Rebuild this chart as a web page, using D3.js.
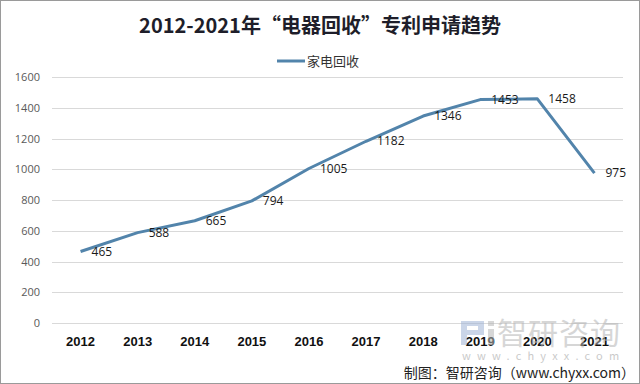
<!DOCTYPE html>
<html>
<head>
<meta charset="utf-8">
<script src="https://cdn.jsdelivr.net/npm/d3@7/dist/d3.min.js"></script>
<style>
  body { margin:0; background:#fff; }
  svg { display:block; font-family:"Noto Sans CJK SC","Noto Sans",sans-serif; }
</style>
</head>
<body>
<div id="chart"></div>
<script>
// data
var years=['2012','2013','2014','2015','2016','2017','2018','2019','2020','2021'];
var values=[465,588,665,794,1005,1182,1346,1453,1458,975];
var yTicks=[0,200,400,600,800,1000,1200,1400,1600];
var seriesName='家电回收';

var width=640, height=384;
var plotLeft=52, plotRight=623, plotTop=77, plotBottom=323;

var svg=d3.select('#chart').append('svg')
    .attr('width',width)
    .attr('height',height);

svg.append('rect')
    .attr('x',0.5).attr('y',0.5)
    .attr('width',width-1).attr('height',height-1)
    .style('fill','#fff')
    .style('stroke','#9a9a9a');

var x=d3.scaleBand().domain(years).range([plotLeft,plotRight]);
var y=d3.scaleLinear().domain([0,1600]).range([plotBottom,plotTop]);

// gridlines
svg.append('g').selectAll('line').data(yTicks).enter()
    .append('line')
    .attr('x1',plotLeft).attr('x2',plotRight)
    .attr('y1',function(d){ return Math.round(y(d))+0.5; })
    .attr('y2',function(d){ return Math.round(y(d))+0.5; })
    .style('stroke','#d9d9d9');

// y axis labels
var yAxis=d3.axisLeft(y).tickValues(yTicks).tickFormat(d3.format('d')).tickSize(0).tickPadding(12);
var gy=svg.append('g').attr('transform','translate('+plotLeft+',0)').call(yAxis);
gy.select('.domain').remove();
gy.selectAll('text')
    .style('font-family','"Open Sans","Noto Sans",sans-serif')
    .style('font-size','11px')
    .style('fill','#595959');

// x axis labels
var xAxis=d3.axisBottom(x).tickSize(0).tickPadding(14);
var gx=svg.append('g').attr('transform','translate(0,'+plotBottom+')').call(xAxis);
gx.select('.domain').remove();
gx.selectAll('text')
    .style('font-family','"Liberation Sans","Noto Sans",sans-serif')
    .style('font-weight','bold')
    .style('font-size','13px')
    .style('fill','#111');

// watermark
var wm=svg.append('g').style('opacity',0.55);
wm.append('rect').attr('x',461).attr('y',321).attr('width',22).attr('height',5).style('fill','#9fb3d6');
wm.append('rect').attr('x',478).attr('y',321).attr('width',6).attr('height',14).style('fill','#9fb3d6');
wm.append('rect').attr('x',461).attr('y',330).attr('width',22).attr('height',5).style('fill','#9fb3d6');
wm.append('rect').attr('x',461).attr('y',321).attr('width',6).attr('height',24).style('fill','#9fb3d6');
wm.append('rect').attr('x',488).attr('y',321).attr('width',6).attr('height',5).style('fill','#b8b8b8');
wm.append('rect').attr('x',488).attr('y',329).attr('width',6).attr('height',16).style('fill','#b8b8b8');
wm.append('text')
    .attr('x',497).attr('y',344)
    .style('font-size','30px')
    .style('fill','#b5b5b5')
    .style('letter-spacing','1px')
    .text('智研咨询');
wm.append('text')
    .attr('x',462).attr('y',360)
    .style('font-size','11px')
    .style('fill','#a0a0a0')
    .style('letter-spacing','6.2px')
    .text('www.chyxx.com');

// line
var line=d3.line()
    .x(function(d,i){ return x(years[i])+x.bandwidth()/2; })
    .y(function(d){ return y(d); });

svg.append('path')
    .datum(values)
    .attr('d',line)
    .style('fill','none')
    .style('stroke','#5284ab')
    .style('stroke-width',3)
    .style('stroke-linejoin','round');

// value labels
svg.append('g').selectAll('text').data(values).enter()
    .append('text')
    .attr('x',function(d,i){ return x(years[i])+x.bandwidth()/2+11; })
    .attr('y',function(d){ return y(d); })
    .attr('dy','0.35em')
    .style('font-family','"Open Sans","Noto Sans",sans-serif')
    .style('font-size','12px')
    .style('fill','#1a1a1a')
    .text(function(d){ return d; });

// title
svg.append('text')
    .attr('x',320).attr('y',33)
    .attr('text-anchor','middle')
    .style('font-size','20px')
    .style('font-weight','bold')
    .style('fill','#1e1e2a')
    .text('2012-2021年“电器回收”专利申请趋势');

// legend
svg.append('line')
    .attr('x1',277).attr('x2',305)
    .attr('y1',61).attr('y2',61)
    .style('stroke','#5284ab')
    .style('stroke-width',3);
svg.append('text')
    .attr('x',307).attr('y',66)
    .style('font-size','13px')
    .style('fill','#333')
    .text(seriesName);

// source
svg.append('text')
    .attr('x',635).attr('y',378)
    .attr('text-anchor','end')
    .style('font-size','14px')
    .style('fill','#222')
    .text('制图：智研咨询（www.chyxx.com）');
</script>
</body>
</html>
